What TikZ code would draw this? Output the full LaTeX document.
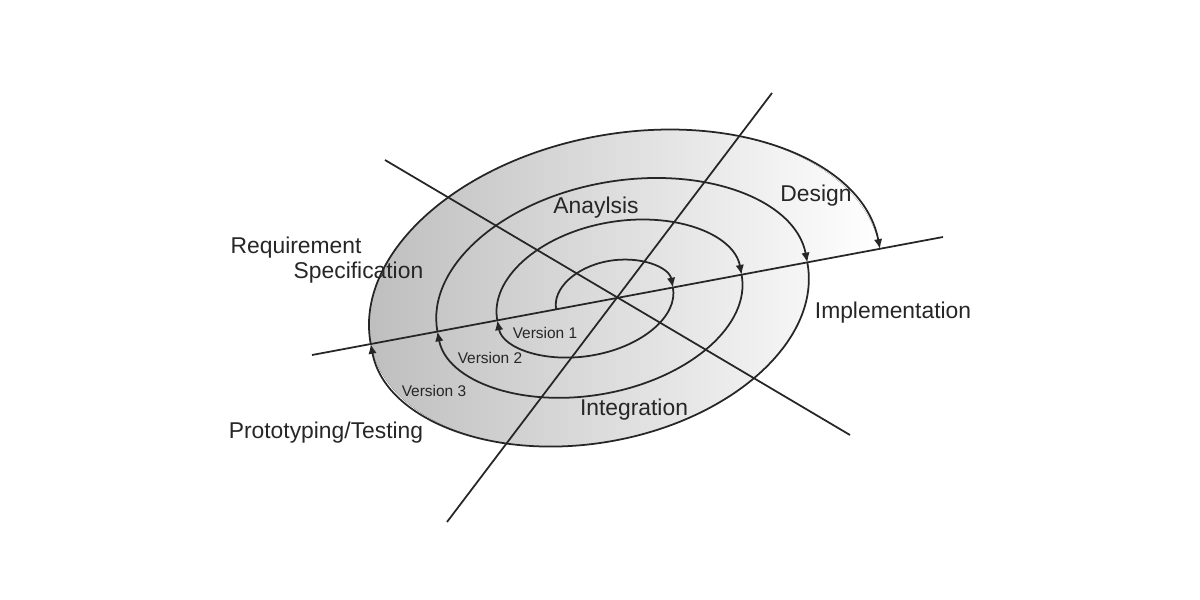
\documentclass[tikz,border=0pt]{standalone}
\usepackage{fontspec}
\setmainfont{Liberation Sans}
\usetikzlibrary{arrows.meta}
\tikzset{
  axisline/.style={draw=black!85, line width=0.5pt},
  spiral/.style={draw=black!85, line width=0.5pt, -{Latex[length=2.8pt,width=2.4pt]}},
  phase/.style={text=black!85, font=\fontsize{6.5}{7.8}\selectfont, inner sep=0pt},
  version/.style={text=black!85, font=\fontsize{4.4}{5.2}\selectfont, inner sep=0pt}
}
\begin{document}
\begin{tikzpicture}
    \useasboundingbox (0,0) rectangle (12,-6);
    % Shaded outer loop and spiral (drawn along the tilted axis)
    \begin{scope}[shift={(6.17,-2.98)}, rotate=10.6, scale=0.01]
        \fill[left color=black!26, right color=white] (-251,0) arc[start angle=180, end angle=0, x radius=259.5, y radius=163]
            -- (194,0) arc[start angle=0, end angle=-180, x radius=222.5, y radius=140] -- cycle;
        \draw[spiral] (-62,0) arc[start angle=180, end angle=0, x radius=59.5, y radius=38];
        \draw[spiral] (57,0) arc[start angle=0, end angle=-180, x radius=89.5, y radius=52];
        \draw[spiral] (-122,0) arc[start angle=180, end angle=0, x radius=124.5, y radius=76];
        \draw[spiral] (127,0) arc[start angle=0, end angle=-180, x radius=155, y radius=92];
        \draw[spiral] (-183,0) arc[start angle=180, end angle=0, x radius=188.5, y radius=116];
        \draw[spiral] (194,0) arc[start angle=0, end angle=-180, x radius=222.5, y radius=140];
        \draw[spiral] (-251,0) arc[start angle=180, end angle=0, x radius=259.5, y radius=163];
    \end{scope}
    % Axes
    \coordinate (axL) at (3.12,-3.55);
    \coordinate (axR) at (9.43,-2.37);
    \coordinate (dgA) at (3.85,-1.60);
    \coordinate (dgB) at (8.50,-4.35);
    \coordinate (stA) at (7.72,-0.93);
    \coordinate (stB) at (4.47,-5.22);
    \draw[axisline] (axL) -- (axR);
    \draw[axisline] (dgA) -- (dgB);
    \draw[axisline] (stA) -- (stB);
    % Phase labels
    \node[phase] (analysis) at (5.96,-2.08) {Anaylsis};
    \node[phase] (design) at (8.16,-1.96) {Design};
    \node[phase, anchor=west] (req) at (2.30,-2.48) {Requirement};
    \node[phase, anchor=west] (spec) at (2.93,-2.73) {Specification};
    \node[phase] (impl) at (8.93,-3.13) {Implementation};
    \node[phase] (integ) at (6.34,-4.10) {Integration};
    \node[phase] (proto) at (3.26,-4.33) {Prototyping/Testing};
    % Version labels
    \node[version] (v1) at (5.45,-3.33) {Version 1};
    \node[version] (v2) at (4.90,-3.58) {Version 2};
    \node[version] (v3) at (4.34,-3.91) {Version 3};
\end{tikzpicture}
\end{document}
